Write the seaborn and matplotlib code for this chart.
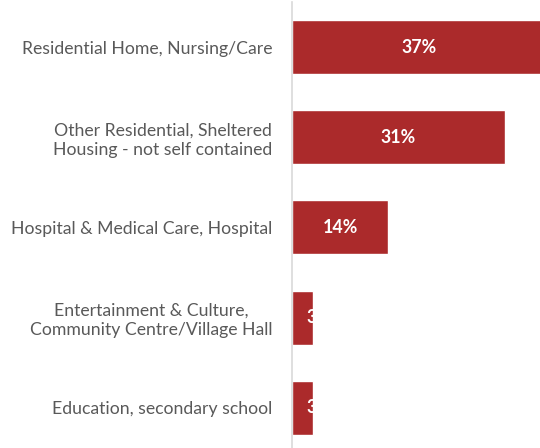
import matplotlib
matplotlib.use("Agg")
import matplotlib.pyplot as plt
import seaborn as sns
import pandas as pd

categories = [
    "Residential Home, Nursing/Care",
    "Other Residential, Sheltered\nHousing - not self contained",
    "Hospital & Medical Care, Hospital",
    "Entertainment & Culture,\nCommunity Centre/Village Hall",
    "Education, secondary school",
]
values = [37, 31, 14, 3, 3]
labels = ["37%", "31%", "14%", "3%", "3%"]

df = pd.DataFrame({"category": categories, "value": values})

sns.set_theme(style="white")
plt.rcParams["font.family"] = ["Lato", "DejaVu Sans"]

fig = plt.figure(figsize=(5.40, 4.48), dpi=100)
ax = fig.add_axes([292 / 540, -4.5 / 448, 254 / 540, 450 / 448])

sns.barplot(data=df, y="category", x="value", orient="h", color="#AB2A2B",
            saturation=1, width=0.6, ax=ax)
ax.set_xlim(0, 37)
ax.set_ylim(4.5, -0.5)

for i, (v, lab) in enumerate(zip(values, labels)):
    if v >= 5:
        ax.text(v / 2, i, lab, ha="center", va="center", color="white",
                fontsize=12.8, fontweight="bold")
    else:
        ax.text(v * 0.68, i, lab, ha="left", va="center", color="white",
                fontsize=12.8, fontweight="bold")

ax.set_xlabel("")
ax.set_ylabel("")
ax.set_xticks([])
ax.tick_params(axis="y", length=0, pad=14, labelsize=12.7, labelcolor="#595959")
for t in ax.get_yticklabels():
    t.set_multialignment("center")
    t.set_linespacing(1.25)
for s in ["top", "right", "bottom"]:
    ax.spines[s].set_visible(False)
ax.spines["left"].set_color("#D9D9D9")
ax.spines["left"].set_linewidth(1.2)

fig.savefig("out.png", dpi=100)
